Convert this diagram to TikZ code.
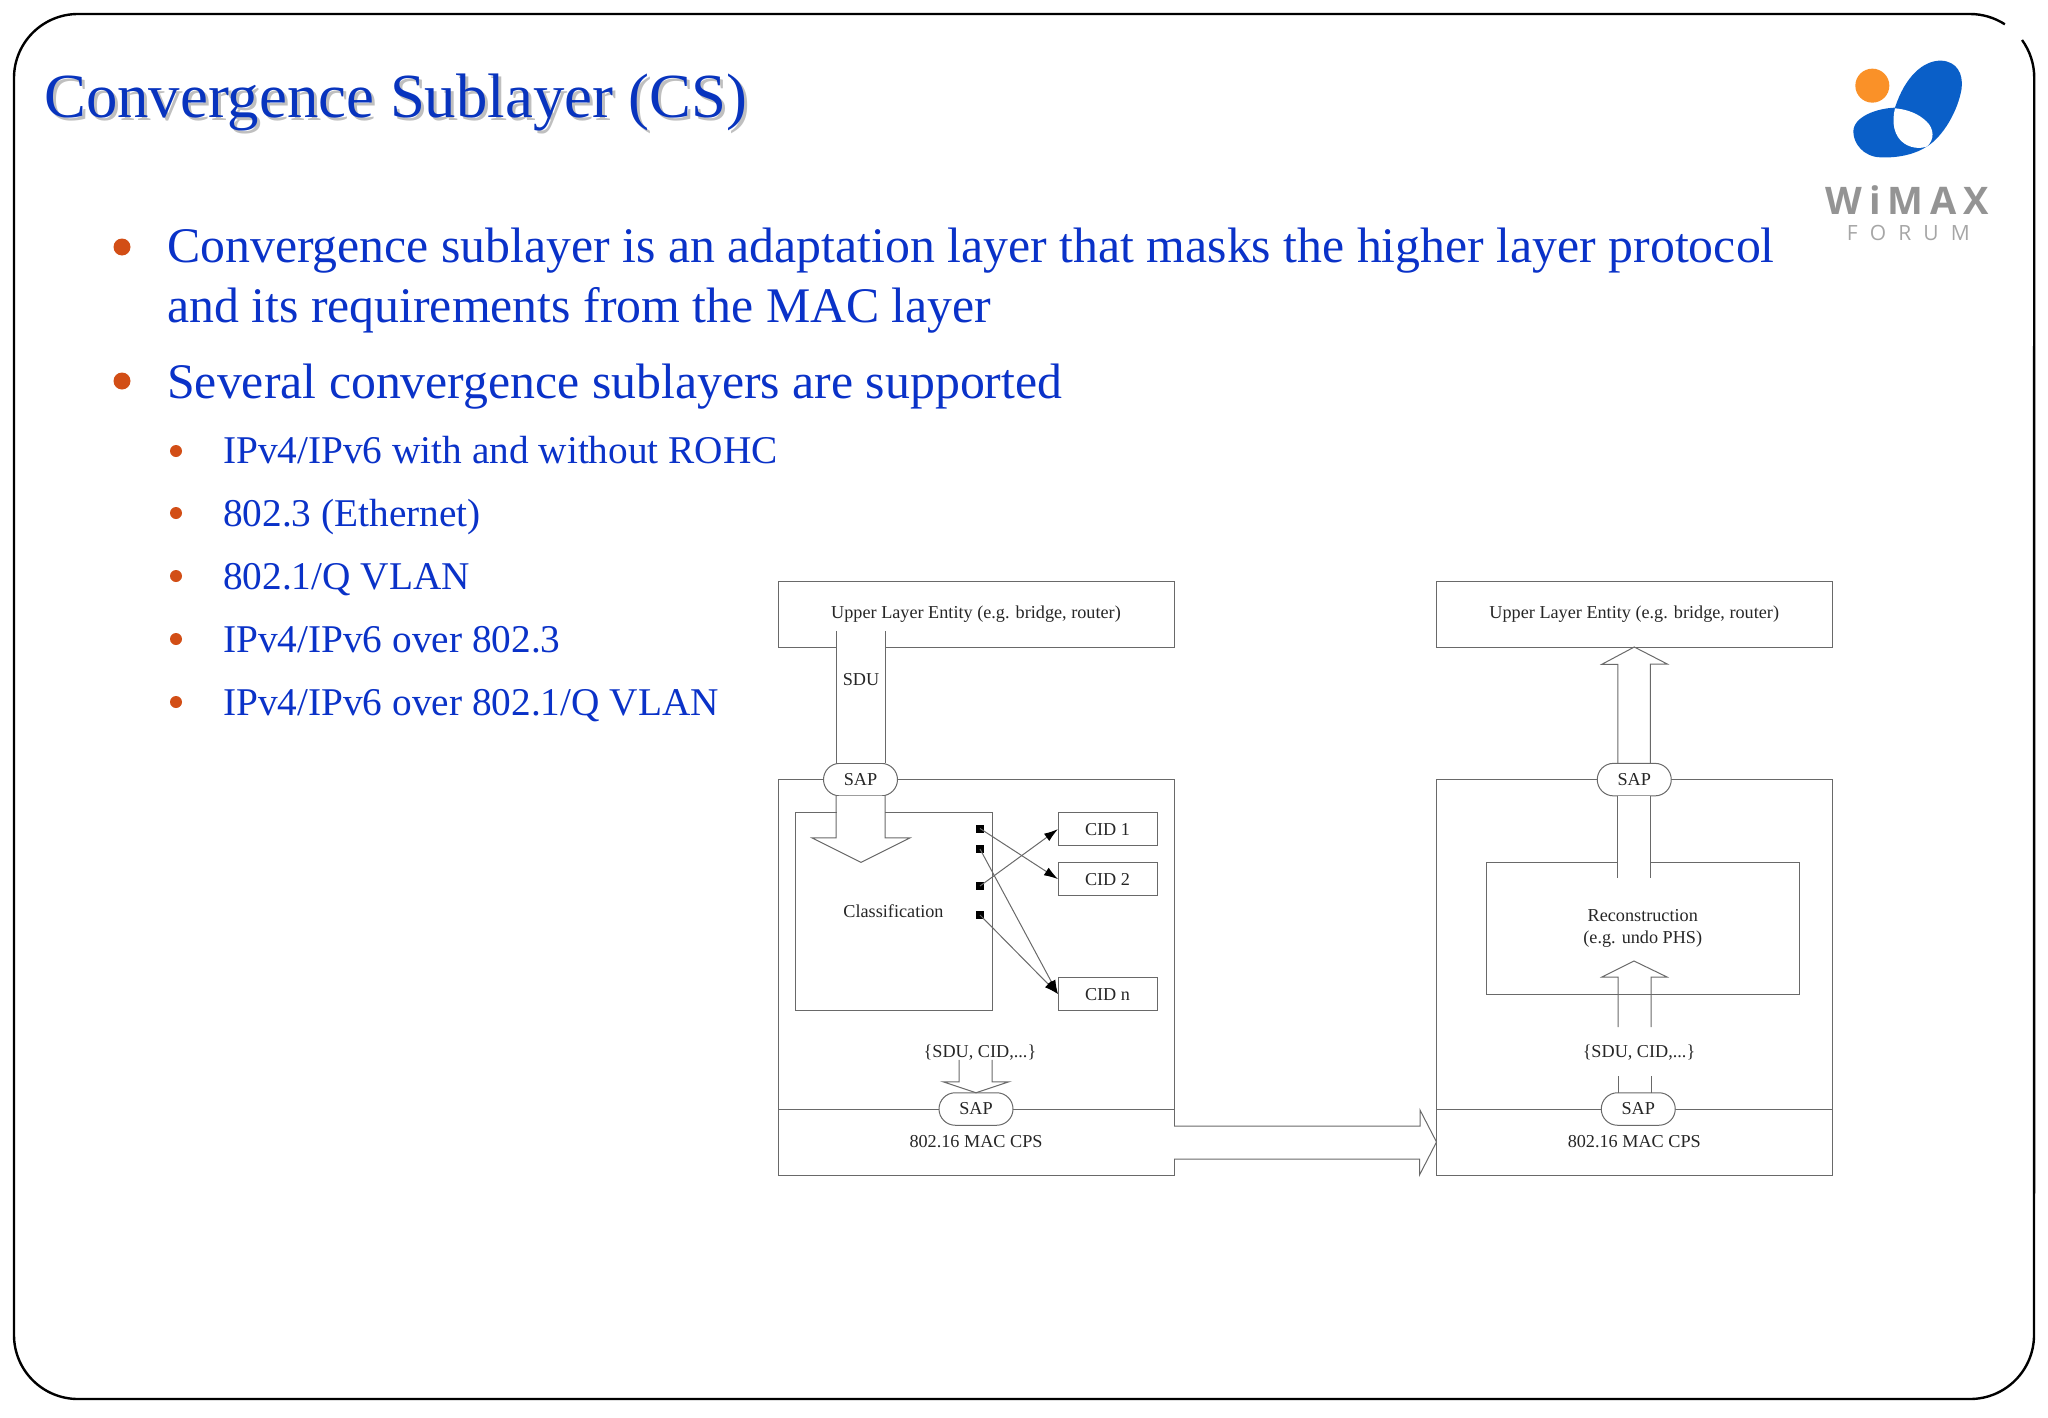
\documentclass[tikz,border=0pt]{standalone}
\usepackage{fontspec}
\setmainfont{Liberation Serif}
\newfontfamily\wmxfont[LetterSpace=18]{Open Sans}
\newfontfamily\frmfont[LetterSpace=58]{Open Sans}
\usetikzlibrary{positioning,shapes,arrows.meta}
\definecolor{ttlblue}{RGB}{8,52,190}
\definecolor{txtblue}{RGB}{10,50,200}
\definecolor{bltred}{RGB}{210,78,22}
\definecolor{dgline}{RGB}{105,105,105}
\definecolor{logoblue}{RGB}{10,95,200}
\definecolor{logoorg}{RGB}{250,145,40}
\tikzstyle{ttxt}=[anchor=base west, inner sep=0pt, font=\fontsize{62.8}{70}\selectfont]
\tikzstyle{btxt}=[anchor=base west, inner sep=0pt, text=txtblue, font=\fontsize{49.8}{56}\selectfont]
\tikzstyle{stxt}=[anchor=base west, inner sep=0pt, text=txtblue, font=\fontsize{39.3}{48}\selectfont]
\tikzstyle{bdot}=[circle, fill=bltred, inner sep=0pt, minimum size=17pt]
\tikzstyle{sdot}=[circle, fill=bltred, inner sep=0pt, minimum size=12pt]
\tikzstyle{dbox}=[rectangle, draw=dgline, line width=1pt, outer sep=0pt, inner sep=0pt,
                  align=center, text=black!85, font=\fontsize{18.2}{22}\selectfont]
\tikzstyle{sapbox}=[rounded rectangle, draw=dgline, fill=white, line width=1pt, outer sep=0pt,
                    minimum width=74pt, minimum height=32.5pt, inner sep=0pt, text=black!85,
                    font=\fontsize{18.2}{22}\selectfont]
\tikzstyle{cbox}=[dbox, minimum width=99pt, minimum height=33pt]
\tikzstyle{sqbox}=[rectangle, fill=black, minimum size=8pt, inner sep=0pt]
\tikzstyle{dlab}=[inner sep=0pt, text=black!85, font=\fontsize{18.2}{22}\selectfont]
\tikzstyle{pline}=[-, draw=dgline, line width=1pt]
\tikzstyle{parr}=[draw=dgline, line width=1pt, -{Latex[length=14pt,width=9pt,black]}]
\tikzstyle{gapf}=[fill=white, draw=none]
\begin{document}
\begin{tikzpicture}[x=1pt,y=-1pt,node distance=0mm]
\useasboundingbox (0,0) rectangle (2048,1418);

\draw[line width=2.4pt] (2022,40) arc (36:0:64pt) -- (2034,1335) arc (0:-90:64pt) -- (78,1399)
  arc (-90:-180:64pt) -- (14,78) arc (180:90:64pt) -- (1970,14) arc (90:57:64pt);

\node (TTLs) [ttxt, text=black!25] at (47,121) {Convergence Sublayer (CS)};
\node (TTL) [ttxt, text=ttlblue] at (44,118) {Convergence Sublayer (CS)};

\node (Ba) [bdot] at (122,247) {};
\node (BaT) [btxt] at (167,262) {Convergence sublayer is an adaptation layer that masks the higher layer protocol};
\node (BaU) [btxt] at (167,322) {and its requirements from the MAC layer};
\node (Bb) [bdot] at (122,381) {};
\node (BbT) [btxt] at (167,398) {Several convergence sublayers are supported};
\node (Sa) [sdot] at (176,451) {};
\node (SaT) [stxt] at (223,463.5) {IPv4/IPv6 with and without ROHC};
\node (Sb) [sdot] at (176,513) {};
\node (SbT) [stxt] at (223,526.5) {802.3 (Ethernet)};
\node (Sc) [sdot] at (176,576) {};
\node (ScT) [stxt] at (223,589) {802.1/Q VLAN};
\node (Sd) [sdot] at (176,639) {};
\node (SdT) [stxt] at (223,652) {IPv4/IPv6 over 802.3};
\node (Se) [sdot] at (176,702) {};
\node (SeT) [stxt] at (223,715.5) {IPv4/IPv6 over 802.1/Q VLAN};

\begin{scope}[shift={(1780,0)},x=.3333pt,y=-.3333pt]
\fill[logoorg] (277,257) circle (17pt);
\fill[logoblue] (345,323) .. controls (375,230) and (430,180) .. (485,182)
  .. controls (530,185) and (550,220) .. (545,265)
  .. controls (535,330) and (490,410) .. (440,440)
  .. controls (410,460) and (360,475) .. (300,472)
  .. controls (250,470) and (220,430) .. (220,395)
  .. controls (220,350) and (290,325) .. (345,323);
\fill[white] (345,325) .. controls (335,365) and (340,410) .. (375,432)
  .. controls (400,447) and (425,445) .. (440,440)
  .. controls (465,420) and (462,385) .. (440,365)
  .. controls (415,340) and (380,328) .. (345,325);
\node (WMX) [inner sep=0pt, text=black!42] at (382,600) {\fontsize{38}{40}\wmxfont\bfseries WiMAX};
\node (FRM) [inner sep=0pt, text=black!35] at (385,700) {\fontsize{21}{24}\frmfont FORUM};
\end{scope}

\node (ULEa) [dbox, minimum width=396pt, minimum height=66pt] at (976,614) {Upper Layer Entity (e.g. bridge, router)};
\node (MSa) [dbox, minimum width=396pt, minimum height=329.4pt, below=132.6pt of ULEa] {};
\node (MACa) [dbox, minimum width=396pt, minimum height=66pt, below=0pt of MSa] {802.16 MAC CPS};
\node (CLS) [dbox, minimum width=197pt, minimum height=198pt, below right=33pt and 17pt of MSa.north west] {Classification};
\node (CIDa) [cbox, below right=0pt and 66pt of CLS.north east] {CID 1};
\node (CIDb) [cbox, below=17pt of CIDa] {CID 2};
\node (CIDn) [cbox, below=82pt of CIDb] {CID n};
\node (SQa) [sqbox] at (980,828.5) {};
\node (SQb) [sqbox] at (980,849) {};
\node (SQc) [sqbox] at (980,886) {};
\node (SQd) [sqbox] at (980,915) {};
\draw[parr] (SQa.center) -- (CIDb.west);
\draw[parr] (SQb.center) -- (CIDn.west);
\draw[parr] (SQc.center) -- (CIDa.west);
\draw[parr] (SQd.center) -- (CIDn.west);

\node (SAPa) [sapbox] at ([xshift=-115.5pt]MSa.north) {SAP};
\node (SAPb) [sapbox] at (MACa.north) {SAP};

\path[gapf] ([xshift=-24pt]SAPa.north) rectangle ++(48,-123);
\path[gapf] ([xshift=-24pt]SAPa.south) rectangle ++(48,25);
\draw[pline] ([xshift=-24.5pt]SAPa.north) -- ++(0,-132);
\draw[pline] ([xshift=24.5pt]SAPa.north) -- ++(0,-132);
\draw[pline] ([xshift=-24.5pt]SAPa.south) -- ++(0,42) -- ++(-24,0) -- ++(49,24.5) -- ++(49,-24.5) -- ++(-25,0) -- ++(0,-42);
\draw[pline] ([xshift=-17pt,yshift=33pt]SAPb.north) -- ++(0,22) -- ++(-16,0) -- (SAPb.north) -- ++(33,-11) -- ++(-17,0) -- ++(0,-22);
\node (SDUl) [dlab] at (861,680) {SDU};
\node (CSa) [dlab] at (980,1053) {\{SDU, CID,...\}};

\node (ULEb) [dbox, minimum width=395.5pt, minimum height=66pt] at (1634.25,614) {Upper Layer Entity (e.g. bridge, router)};
\node (MSb) [dbox, minimum width=395.5pt, minimum height=329.4pt, below=132.6pt of ULEb] {};
\node (MACb) [dbox, minimum width=395.5pt, minimum height=66pt, below=0pt of MSb] {802.16 MAC CPS};
\node (RECb) [dbox, minimum width=312.5pt, minimum height=132pt, below right=82.4pt and 50pt of MSb.north west] {Reconstruction\\(e.g. undo PHS)};
\node (SAPc) [sapbox] at (MSb.north) {SAP};
\node (SAPd) [sapbox] at ([xshift=4pt]MACb.north) {SAP};
\node (CSb) [dlab] at (1639,1053) {\{SDU, CID,...\}};

\path[gapf] ([xshift=-16pt]SAPc.south) rectangle ++(32,75);
\path[gapf] ([xshift=-24.25pt]RECb.south) rectangle ++(32,-10);
\draw[pline] ([xshift=-16.5pt]SAPc.north) -- ++(0,-99) -- ++(-16,0) -- (ULEb.south) -- ++(33,17) -- ++(-17,0) -- ++(0,99);
\draw[pline] ([xshift=-16.5pt]SAPc.south) -- ++(0,82);
\draw[pline] ([xshift=16.5pt]SAPc.south) -- ++(0,82);
\draw[pline] ([xshift=-24.75pt,yshift=-33pt]RECb.south) -- ++(0,-50) -- ++(-16,0) -- ++(32,-16) -- ++(33,16) -- ++(-16,0) -- ++(0,50);
\draw[pline] ([xshift=-20pt]SAPd.north) -- ++(0,-17);
\draw[pline] ([xshift=13pt]SAPd.north) -- ++(0,-17);

\path[gapf] ([yshift=16pt]MACa.east) rectangle ([yshift=-17pt,xshift=2pt]MACa.east);
\draw[pline] ([yshift=16pt]MACa.east) -- ++(246,0) -- ++(0,-16) -- (MACb.west) -- ++(-17,33) -- ++(0,-16) -- ([yshift=-17pt]MACa.east);
\end{tikzpicture}
\end{document}
